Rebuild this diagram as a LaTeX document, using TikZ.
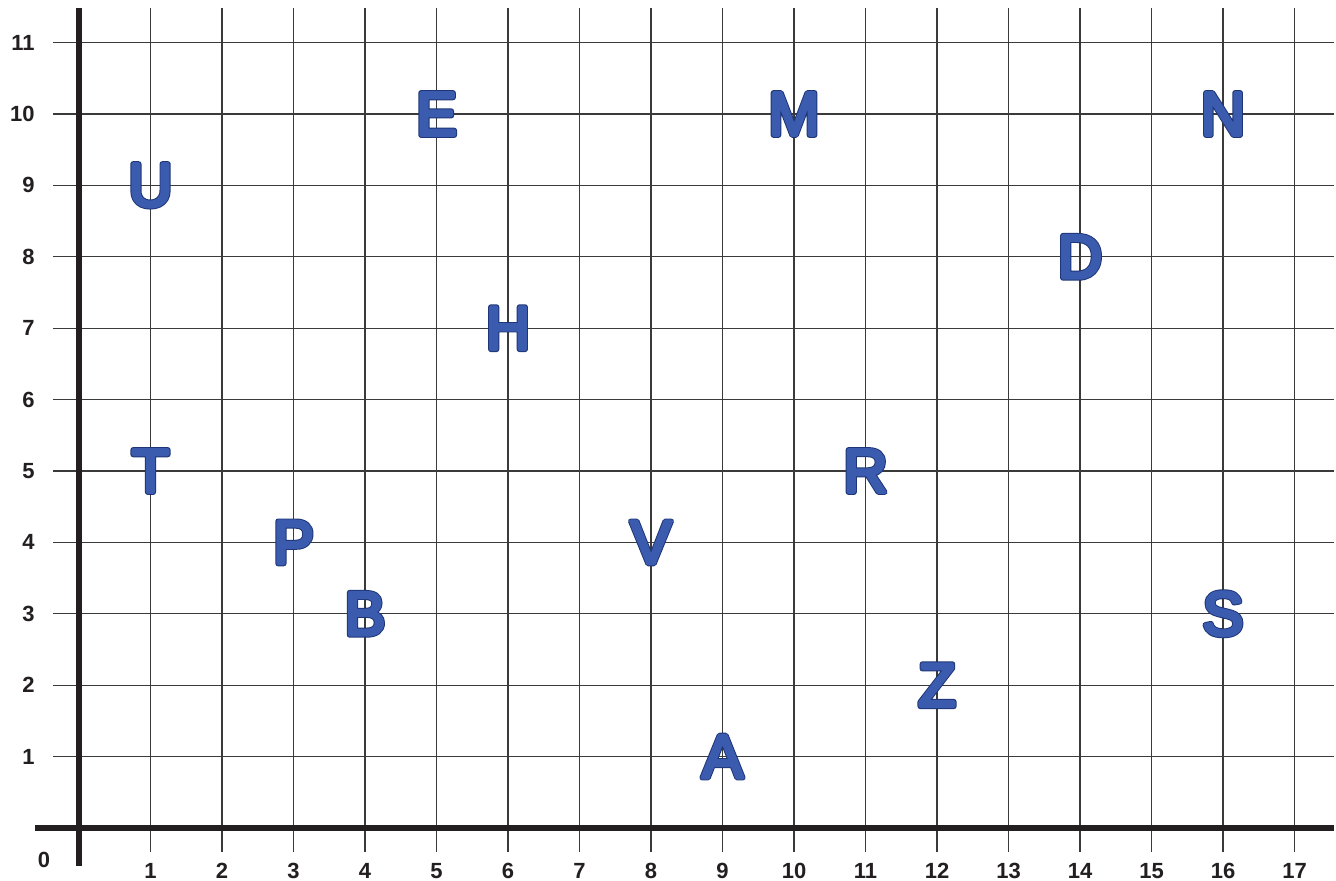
\documentclass[tikz,border=0pt]{standalone}
\usepackage{fontspec}
\setmainfont{Liberation Sans}
\definecolor{axisc}{HTML}{231F20}
\definecolor{gridc}{HTML}{3A3A3A}
\definecolor{lfill}{HTML}{3A5BAE}
\definecolor{lline}{HTML}{1E3577}
\tikzset{
  gridline/.style={draw=gridc,line width=0.6pt},
  axisline/.style={draw=axisc,line width=2.9pt},
  ticklabel/.style={font=\fontsize{12.5}{12.5}\selectfont\bfseries,text=axisc,inner sep=0pt},
  lt/.style={font=\fontsize{35}{35}\selectfont,inner sep=0pt,anchor=center}
}
\newcommand\outl[1]{\special{pdf:literal direct 1 j 1 J 3.1 w 0.118 0.208 0.467 RG 0.118 0.208 0.467 rg 2 Tr}#1\special{pdf:literal direct 0 Tr}}
\newcommand\infl[1]{\special{pdf:literal direct 1 j 1 J 2.0 w 0.227 0.357 0.682 RG 0.227 0.357 0.682 rg 2 Tr}#1\special{pdf:literal direct 0 Tr}}
\newcommand\rletter[3]{%
  \node[lt,text=lline] (O#3) at ({79+71.5*#1},{828-71.4*#2}) {\outl{#3}};
  \node[lt,text=lfill] (L#3) at ({79+71.5*#1},{828-71.4*#2}) {\infl{#3}};
}
\begin{document}
\begin{tikzpicture}[x=0.02cm,y=-0.02cm]
\useasboundingbox[fill=white] (0,0) rectangle (1336,881);
% grid
\foreach \i in {1,...,17}{\draw[gridline] ({79+71.5*\i},8) -- ({79+71.5*\i},852);}
\foreach \j in {1,...,11}{\draw[gridline] (53,{828-71.4*\j}) -- (1334,{828-71.4*\j});}
% axes
\draw[axisline] (79,8) -- (79,866);
\draw[axisline] (35,828) -- (1334,828);
% labels
\foreach \i in {1,...,17}{\node[ticklabel] (xl\i) at ({79+71.5*\i},871) {\i};}
\foreach \j in {1,...,11}{\node[ticklabel,anchor=east] (yl\j) at (35,{828-71.4*\j}) {\j};}
\node[ticklabel] (zero) at (44,860) {0};
% letters
\rletter{1}{9}{U}
\rletter{5}{10}{E}
\rletter{10}{10}{M}
\rletter{16}{10}{N}
\rletter{14}{8}{D}
\rletter{6}{7}{H}
\rletter{1}{5}{T}
\rletter{11}{5}{R}
\rletter{3}{4}{P}
\rletter{8}{4}{V}
\rletter{4}{3}{B}
\rletter{16}{3}{S}
\rletter{12}{2}{Z}
\rletter{9}{1}{A}
\end{tikzpicture}
\end{document}
